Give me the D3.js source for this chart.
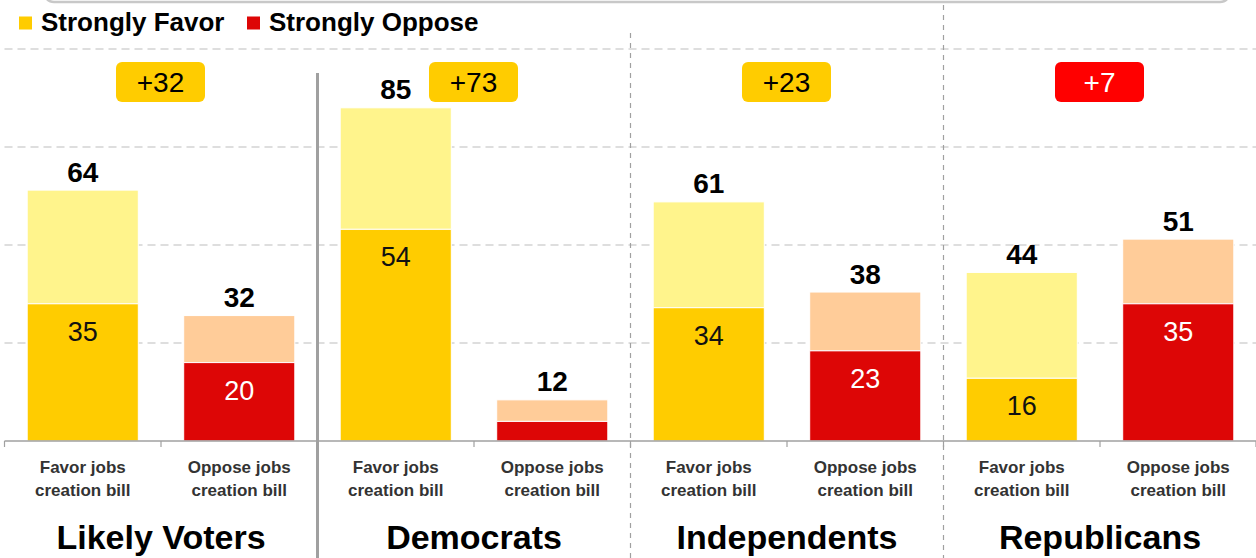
<!DOCTYPE html>
<html>
<head>
<meta charset="utf-8">
<script src="https://cdn.jsdelivr.net/npm/d3@7/dist/d3.min.js"></script>
<style>
  html, body { margin: 0; padding: 0; background: #fff; }
  svg { display: block; font-family: "Liberation Sans", Arial, sans-serif; }
</style>
</head>
<body>
<svg id="chart" width="1256" height="558"></svg>
<script>
// ---- data ----
const groups = ["Likely Voters", "Democrats", "Independents", "Republicans"];
const categories = ["Favor jobs creation bill", "Oppose jobs creation bill"];
const strongValues   = [35, 20, 54, 5, 34, 23, 16, 35];       // strongly favor / strongly oppose
const somewhatValues = [29, 12, 31, 5.5, 27, 15, 27, 16.5];   // remaining (light) part of each bar
const totalLabels    = [64, 32, 85, 12, 61, 38, 44, 51];
const diffLabels     = ["+32", "+73", "+23", "+7"];
const yTicks = [0, 25, 50, 75, 100];
const legendItems = ["Strongly Favor", "Strongly Oppose"];

// ---- layout ----
const svg = d3.select("#chart");
const x0 = 4.5, x1 = 1256.5, yBase = 441, yTop = 49;

const keys = [];
groups.forEach(g => categories.forEach(c => keys.push(g + "|" + c)));
const bars = keys.map((k, i) => ({
  key: k, group: k.split("|")[0], cat: k.split("|")[1], favor: i % 2 === 0,
  strong: strongValues[i], somewhat: somewhatValues[i], total: totalLabels[i]
}));

const x = d3.scaleBand().domain(keys).range([x0, x1]).paddingInner(0.29).paddingOuter(0.145);
const xg = d3.scaleBand().domain(groups).range([x0, x1]).padding(0);
const y = d3.scaleLinear().domain([0, 100]).range([yBase, yTop]);

const col = {
  favorStrong: "#FFCC00", favorLight: "#FFF48C",
  opposeStrong: "#DD0606", opposeLight: "#FFCC99",
  diffRed: "#FF0000"
};

// top frame remnant
svg.append("rect").attr("x", 44).attr("y", -40).attr("width", 1186).attr("height", 42)
  .attr("rx", 10).attr("fill", "none").attr("stroke", "#c8c8c8").attr("stroke-width", 2.5);

// gridlines
svg.append("g").selectAll("line").data(yTicks.filter(t => t > 0)).join("line")
  .attr("x1", x0).attr("x2", x1).attr("y1", d => y(d)).attr("y2", d => y(d))
  .attr("stroke", "#bdbdbd").attr("stroke-width", 1.2).attr("stroke-dasharray", "8,5");

// group separators
const sepX = groups.slice(1).map(g => xg(g));
svg.append("line").attr("x1", sepX[0]).attr("x2", sepX[0]).attr("y1", 73).attr("y2", 558)
  .attr("stroke", "#a0a0a0").attr("stroke-width", 3);
svg.append("line").attr("x1", sepX[1]).attr("x2", sepX[1]).attr("y1", 33).attr("y2", 558)
  .attr("stroke", "#a0a0a0").attr("stroke-width", 1.2).attr("stroke-dasharray", "5,5");
svg.append("line").attr("x1", sepX[2]).attr("x2", sepX[2]).attr("y1", 5).attr("y2", 558)
  .attr("stroke", "#a0a0a0").attr("stroke-width", 1.2).attr("stroke-dasharray", "5,5");

// bars
const bg = svg.append("g").selectAll("g").data(bars).join("g");
bg.append("rect")
  .attr("x", d => x(d.key)).attr("width", x.bandwidth())
  .attr("y", d => y(d.strong + d.somewhat))
  .attr("height", d => y(d.strong) - y(d.strong + d.somewhat))
  .attr("fill", d => d.favor ? col.favorLight : col.opposeLight)
  .attr("stroke", "#fff").attr("stroke-width", 1);
bg.append("rect")
  .attr("x", d => x(d.key)).attr("width", x.bandwidth())
  .attr("y", d => y(d.strong))
  .attr("height", d => yBase - y(d.strong))
  .attr("fill", d => d.favor ? col.favorStrong : col.opposeStrong)
  .attr("stroke", "#fff").attr("stroke-width", 1);

// inner labels
bg.filter(d => d.strong >= 10).append("text")
  .attr("x", d => x(d.key) + x.bandwidth() / 2)
  .attr("y", d => y(d.strong) + 37)
  .attr("text-anchor", "middle").attr("font-size", 27)
  .attr("fill", d => d.favor ? "#111" : "#fff")
  .text(d => d.strong);

// total labels
bg.append("text")
  .attr("x", d => x(d.key) + x.bandwidth() / 2)
  .attr("y", d => y(d.strong + d.somewhat) - 8.5)
  .attr("text-anchor", "middle").attr("font-size", 28).attr("font-weight", "bold")
  .attr("fill", "#000")
  .text(d => d.total);

// axis
const axis = svg.append("g");
axis.append("line").attr("x1", x0).attr("x2", x1).attr("y1", yBase).attr("y2", yBase)
  .attr("stroke", "#a0a0a0").attr("stroke-width", 1.5);
const tickXs = keys.map(k => x(k) - x.step() * x.paddingInner() / 2).concat([x1 - 0.5]);
tickXs[0] = x0;
axis.selectAll("line.t").data(tickXs).join("line").attr("class", "t")
  .attr("x1", d => d).attr("x2", d => d).attr("y1", yBase).attr("y2", yBase + 6)
  .attr("stroke", "#a0a0a0").attr("stroke-width", 1.2);

// category labels
const cl = svg.append("g").selectAll("text").data(bars).join("text")
  .attr("x", d => x(d.key) + x.bandwidth() / 2)
  .attr("text-anchor", "middle").attr("font-size", 17).attr("font-weight", "bold")
  .attr("fill", "#333");
cl.append("tspan").attr("x", d => x(d.key) + x.bandwidth() / 2).attr("y", 473)
  .text(d => d.cat.split(" ").slice(0, 2).join(" "));
cl.append("tspan").attr("x", d => x(d.key) + x.bandwidth() / 2).attr("y", 496)
  .text(d => d.cat.split(" ").slice(2).join(" "));

// group labels
svg.append("g").selectAll("text").data(groups).join("text")
  .attr("x", d => xg(d) + xg.bandwidth() / 2).attr("y", 549)
  .attr("text-anchor", "middle").attr("font-size", 34).attr("font-weight", "bold")
  .attr("fill", "#000").text(d => d);

// difference boxes
const diffs = groups.map((g, i) => ({
  g, label: diffLabels[i],
  flip: strongValues[2 * i + 1] > strongValues[2 * i]
}));
const db = svg.append("g").selectAll("g").data(diffs).join("g")
  .attr("transform", d => `translate(${xg(d.g) + xg.bandwidth() / 2},0)`);
db.append("rect").attr("x", -45).attr("y", 62).attr("width", 89).attr("height", 40).attr("rx", 6)
  .attr("fill", d => d.flip ? col.diffRed : col.favorStrong);
db.append("text").attr("x", -0.5).attr("y", 92).attr("text-anchor", "middle")
  .attr("font-size", 28).attr("fill", d => d.flip ? "#fff" : "#000").text(d => d.label);

// legend
const lg = svg.append("g");
const legCols = [col.favorStrong, col.opposeStrong];
const legX = [19, 247];
legendItems.forEach((t, i) => {
  lg.append("rect").attr("x", legX[i]).attr("y", 16.5).attr("width", 13).attr("height", 13)
    .attr("fill", legCols[i]);
  lg.append("text").attr("x", legX[i] + 22).attr("y", 31).attr("font-size", 26)
    .attr("font-weight", "bold").attr("fill", "#000").text(t);
});
</script>
</body>
</html>
